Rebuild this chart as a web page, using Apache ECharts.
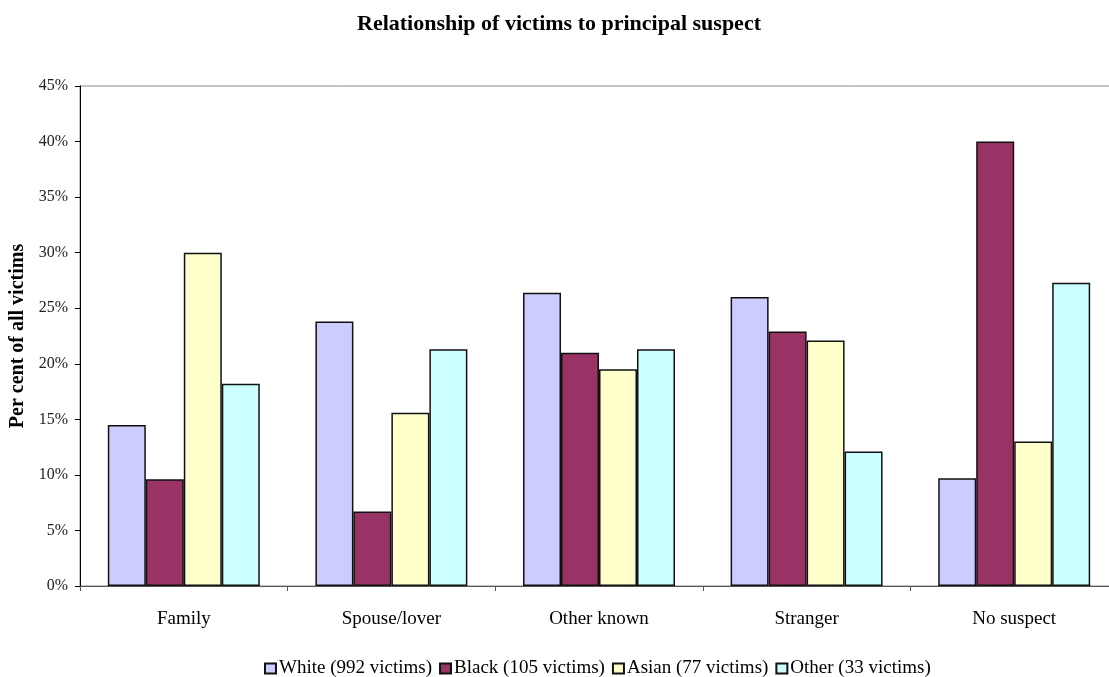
<!DOCTYPE html>
<html>
<head>
<meta charset="utf-8">
<script src="https://cdn.jsdelivr.net/npm/echarts@6/dist/echarts.min.js"></script>
<style>
html,body{margin:0;padding:0;background:#fff;}
#chart{width:1109px;height:677px;}
</style>
</head>
<body>
<div id="chart"></div>
<script>
const categories = ['Family', 'Spouse/lover', 'Other known', 'Stranger', 'No suspect'];
const seriesNames = ['White (992 victims)', 'Black (105 victims)', 'Asian (77 victims)', 'Other (33 victims)'];
const white = [14.5, 23.8, 26.4, 26.0, 9.7];
const black = [9.6, 6.7, 21.0, 22.9, 40.0];
const asian = [30.0, 15.6, 19.5, 22.1, 13.0];
const other = [18.2, 21.3, 21.3, 12.1, 27.3];
const colors = ['#CCCCFF', '#993366', '#FFFFCC', '#CCFFFF'];

const font = 'Liberation Serif, Times New Roman, serif';
const chart = echarts.init(document.getElementById('chart'), null, {renderer: 'canvas'});
const dataSets = [white, black, asian, other];
chart.setOption({
  animation: false,
  backgroundColor: '#fff',
  title: {
    text: 'Relationship of victims to principal suspect',
    left: 554, textAlign: 'center', top: 8,
    textStyle: {fontFamily: font, fontWeight: 'bold', fontSize: 22, color: '#000'}
  },
  legend: {
    data: seriesNames,
    top: 654,
    left: 259,
    icon: 'rect', itemWidth: 11, itemHeight: 10, itemGap: 7,
    textStyle: {fontFamily: font, fontSize: 19, color: '#000', padding: [0,0,0,-2]}
  },
  grid: {left: 80, width: 1038, top: 86, bottom: 91, show: true, borderColor: '#888', borderWidth: 1, outerBoundsMode: 'none', containLabel: false},
  xAxis: {
    type: 'category', data: categories,
    axisLine: {lineStyle: {color: '#555', width: 1}},
    axisTick: {show: true, length: 5, lineStyle: {color: '#555'}},
    axisLabel: {fontFamily: font, fontSize: 19, color: '#000', margin: 24}
  },
  yAxis: {
    type: 'value', min: 0, max: 45, interval: 5,
    name: 'Per cent of all victims', nameLocation: 'middle', nameGap: 50,
    nameTextStyle: {fontFamily: font, fontWeight: 'bold', fontSize: 20, color: '#000'},
    axisLine: {show: true, lineStyle: {color: '#000', width: 1}},
    axisTick: {show: true, length: 5, lineStyle: {color: '#000'}},
    axisLabel: {fontFamily: font, fontSize: 16, color: '#222', margin: 12, formatter: '{value}%'},
    splitLine: {show: false}
  },
  series: seriesNames.map((n, i) => ({
    name: n, type: 'bar', data: dataSets[i],
    barGap: '0%', barCategoryGap: '26.8%',
    itemStyle: {color: colors[i], borderColor: '#111', borderWidth: 1.5}
  }))
});
</script>
</body>
</html>
